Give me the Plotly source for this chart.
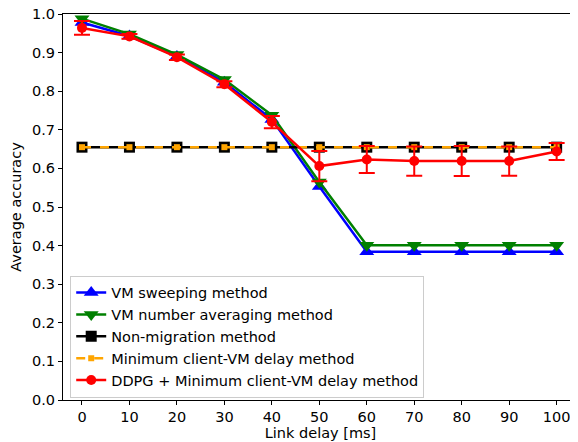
import plotly.graph_objects as go

delays = [0, 10, 20, 30, 40, 50, 60, 70, 80, 90, 100]
vm_sweeping = [0.978, 0.943, 0.890, 0.823, 0.727, 0.553, 0.384, 0.384, 0.384, 0.384, 0.384]
vm_averaging = [0.988, 0.948, 0.895, 0.830, 0.738, 0.565, 0.401, 0.401, 0.401, 0.401, 0.401]
non_migration = [0.655] * 11
min_delay = [0.655] * 11
ddpg = [0.964, 0.942, 0.888, 0.818, 0.720, 0.606, 0.623, 0.619, 0.619, 0.619, 0.644]
ddpg_err = [0.018, 0.006, 0.007, 0.008, 0.016, 0.039, 0.035, 0.038, 0.039, 0.038, 0.022]
yticks = [0.0, 0.1, 0.2, 0.3, 0.4, 0.5, 0.6, 0.7, 0.8, 0.9, 1.0]

fig = go.Figure()
fig.add_trace(go.Scatter(x=delays, y=vm_sweeping, name="VM sweeping method", mode="lines+markers",
                         line=dict(color="blue", width=2.5),
                         marker=dict(symbol="triangle-up", size=13, color="blue")))
fig.add_trace(go.Scatter(x=delays, y=vm_averaging, name="VM number averaging method", mode="lines+markers",
                         line=dict(color="green", width=2.5),
                         marker=dict(symbol="triangle-down", size=13, color="green")))
fig.add_trace(go.Scatter(x=delays, y=non_migration, name="Non-migration method", mode="lines+markers",
                         line=dict(color="black", width=2.5),
                         marker=dict(symbol="square", size=11, color="black")))
fig.add_trace(go.Scatter(x=delays, y=min_delay, name="Minimum client-VM delay method", mode="lines+markers",
                         line=dict(color="orange", width=2.5, dash="dash"),
                         marker=dict(symbol="square", size=6, color="orange")))
fig.add_trace(go.Scatter(x=delays, y=ddpg, name="DDPG + Minimum client-VM delay method", mode="lines+markers",
                         line=dict(color="red", width=2.5),
                         marker=dict(symbol="circle", size=10, color="red"),
                         error_y=dict(type="data", array=ddpg_err, visible=True, color="red",
                                      thickness=2, width=8)))

axis_font = dict(family="DejaVu Sans", size=14.5, color="black")
fig.update_layout(
    width=570, height=434,
    margin=dict(l=55, r=0, t=6, b=42),
    plot_bgcolor="white", paper_bgcolor="white",
    font=axis_font,
    showlegend=True,
    legend=dict(x=0.014, y=0.006, xanchor="left", yanchor="bottom",
                bgcolor="rgba(255,255,255,0.8)", bordercolor="#cccccc", borderwidth=1,
                font=dict(family="DejaVu Sans", size=14.5, color="black"),
                itemwidth=30),
    xaxis=dict(range=[-4, 104.5], tickmode="array", tickvals=delays, automargin=False,
               ticks="outside", ticklen=4, tickcolor="black", showline=True, linecolor="black",
               linewidth=1, mirror=True, showgrid=False, zeroline=False,
               ticklabeloverflow="allow",
               title=dict(text="Link delay [ms]", font=axis_font, standoff=2)),
    yaxis=dict(range=[0, 1], tickmode="array", tickvals=yticks, tickformat=".1f", automargin=False,
               ticks="outside", ticklen=4, tickcolor="black", showline=True, linecolor="black",
               linewidth=1, showgrid=False, zeroline=False,
               ticklabeloverflow="allow",
               title=dict(text="Average accuracy", font=axis_font, standoff=6)),
)
fig.write_html("out.html")
